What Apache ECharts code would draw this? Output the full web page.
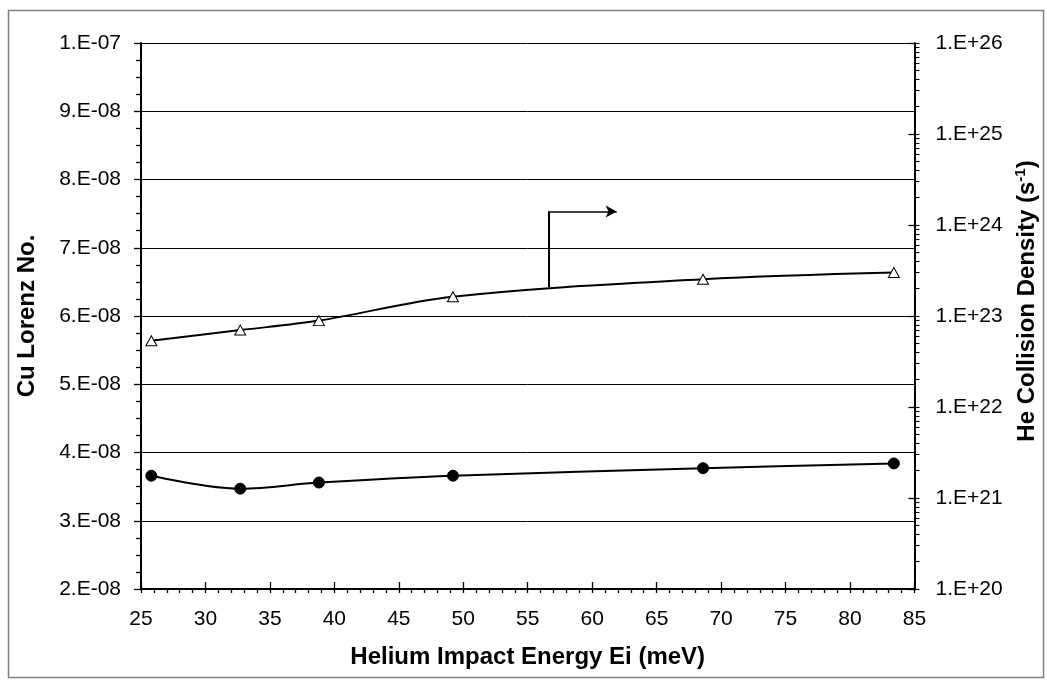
<!DOCTYPE html>
<html>
<head>
<meta charset="utf-8">
<script src="https://cdn.jsdelivr.net/npm/echarts@6/dist/echarts.min.js"></script>
<style>
html,body{margin:0;padding:0;background:#fff;}
#chart{width:1047px;height:680px;}
</style>
</head>
<body>
<div id="chart"></div>
<script>
// ---- data ----
var energy = [25.8, 32.7, 38.8, 49.2, 68.6, 83.4];
var lorenz = [3.66e-8, 3.47e-8, 3.56e-8, 3.66e-8, 3.77e-8, 3.84e-8];
var collision = [5.35e22, 7.0e22, 8.9e22, 1.63e23, 2.53e23, 3.0e23];

var xTickLabels = ['25','30','35','40','45','50','55','60','65','70','75','80','85'];
var leftTickLabels = ['2.E-08','3.E-08','4.E-08','5.E-08','6.E-08','7.E-08','8.E-08','9.E-08','1.E-07'];
var rightTickLabels = ['1.E+20','1.E+21','1.E+22','1.E+23','1.E+24','1.E+25','1.E+26'];

// annotation arrow (data units, left axis)
var arrowX = [56.6, 61.9];
var arrowY = [6.42e-8, 7.53e-8];

// minor tick positions of the log axis (log10 units)
var rightMinorTicks = [];
for (var d = 20; d < 26; d++) {
  for (var k = 1; k <= 9; k++) rightMinorTicks.push(d + Math.log10(k));
}
rightMinorTicks.push(26);

var FONT = 'Liberation Sans, Arial, sans-serif';
var chart = echarts.init(document.getElementById('chart'), null, {renderer: 'canvas'});

var option = {
  animation: false,
  backgroundColor: '#ffffff',
  textStyle: {fontFamily: FONT},
  graphic: [{
    type: 'rect', left: 6, top: 8, z: -10,
    shape: {width: 1035, height: 667},
    style: {fill: 'none', stroke: '#808080', lineWidth: 1.5}
  }],
  grid: {left: 141, right: 121, top: 43, bottom: 91, containLabel: false},
  xAxis: [{
    type: 'value', min: 25, max: 85, interval: 5,
    name: 'Helium Impact Energy Ei (meV)', nameLocation: 'middle', nameGap: 56,
    nameTextStyle: {fontFamily: FONT, fontSize: 24, fontWeight: 'bold', color: '#000'},
    axisLine: {show: true, onZero: false, lineStyle: {color: '#000', width: 2}},
    axisTick: {show: true, inside: false, length: 4, lineStyle: {color: '#000', width: 1.3}},
    minorTick: {show: true, splitNumber: 5, length: 4, lineStyle: {color: '#000', width: 1.3}},
    axisLabel: {fontFamily: FONT, fontSize: 21, color: '#000', margin: 20,
      formatter: function (v) { return xTickLabels[Math.round((v - 25) / 5)]; }},
    splitLine: {show: false}
  }, {
    type: 'value', min: 25, max: 85, interval: 5, position: 'bottom', offset: 0,
    axisLine: {show: false},
    axisTick: {show: true, inside: true, length: 7, lineStyle: {color: '#000', width: 1.3}},
    axisLabel: {show: false},
    splitLine: {show: false}
  }],
  yAxis: [{
    type: 'value', min: 2e-8, max: 1e-7, interval: 1e-8, position: 'left',
    name: 'Cu Lorenz No.', nameLocation: 'middle', nameGap: 102, nameRotate: 90,
    nameTextStyle: {fontFamily: FONT, fontSize: 24, fontWeight: 'bold', color: '#000'},
    axisLine: {show: true, onZero: false, lineStyle: {color: '#000', width: 2}},
    axisTick: {show: true, inside: false, length: 7, lineStyle: {color: '#000', width: 1.3}},
    minorTick: {show: true, splitNumber: 4, length: 5, lineStyle: {color: '#000', width: 1.3}},
    axisLabel: {fontFamily: FONT, fontSize: 21, color: '#000', margin: 20,
      formatter: function (v) { return leftTickLabels[Math.round(v / 1e-8) - 2]; }},
    splitLine: {show: true, lineStyle: {color: '#000', width: 1}}
  }, {
    type: 'log', logBase: 10, min: 1e20, max: 1e26, position: 'right',
    name: '{a|He Collision Density (s}{b|-1}{a|)}', nameLocation: 'middle', nameGap: 86, nameRotate: 90,
    nameTextStyle: {
      color: '#000', padding: [0, 0, 0, 30],
      rich: {
        a: {fontFamily: FONT, fontSize: 24, fontWeight: 'bold', color: '#000'},
        b: {fontFamily: FONT, fontSize: 15, fontWeight: 'bold', color: '#000', padding: [0, 0, 12, 0]}
      }
    },
    axisLine: {show: true, onZero: false, lineStyle: {color: '#000', width: 2}},
    axisTick: {show: true, inside: true, length: 6, lineStyle: {color: '#000', width: 1.3}},
    axisLabel: {fontFamily: FONT, fontSize: 21, color: '#000', margin: 21,
      formatter: function (v) { return rightTickLabels[Math.round(Math.log10(v)) - 20]; }},
    splitLine: {show: false}
  }, {
    type: 'value', min: 20, max: 26, position: 'right', offset: 0,
    axisLine: {show: false},
    axisTick: {show: true, inside: false, length: 5, customValues: rightMinorTicks,
      lineStyle: {color: '#000', width: 1.1}},
    axisLabel: {show: false},
    splitLine: {show: false}
  }],
  series: [{
    name: 'Lorenz', type: 'line', xAxisIndex: 0, yAxisIndex: 0,
    data: energy.map(function (x, i) { return [x, lorenz[i]]; }),
    smooth: 0.35, symbol: 'circle', symbolSize: 11,
    lineStyle: {color: '#000', width: 2},
    itemStyle: {color: '#000', borderColor: '#000'},
    z: 5
  }, {
    name: 'Collision', type: 'line', xAxisIndex: 0, yAxisIndex: 1,
    data: energy.map(function (x, i) { return [x, collision[i]]; }),
    smooth: 0.35, symbol: 'triangle', symbolSize: [11, 10],
    lineStyle: {color: '#000', width: 2},
    itemStyle: {color: '#fff', borderColor: '#000', borderWidth: 1},
    z: 5
  }, {
    name: 'arrow', type: 'line', xAxisIndex: 0, yAxisIndex: 0, data: [],
    markLine: {
      silent: true, animation: false,
      label: {show: false},
      emphasis: {disabled: true},
      data: [
        [{coord: [arrowX[0], arrowY[0]], symbol: 'none', lineStyle: {color: '#000', width: 2, type: 'solid'}},
         {coord: [arrowX[0], arrowY[1]], symbol: 'none'}],
        [{coord: [arrowX[0], arrowY[1]], symbol: 'none', lineStyle: {color: '#000', width: 1.5, type: 'solid'}},
         {coord: [arrowX[1], arrowY[1]], symbol: 'arrow', symbolSize: [9, 11]}]
      ]
    }
  }]
};
chart.setOption(option);
</script>
</body>
</html>
